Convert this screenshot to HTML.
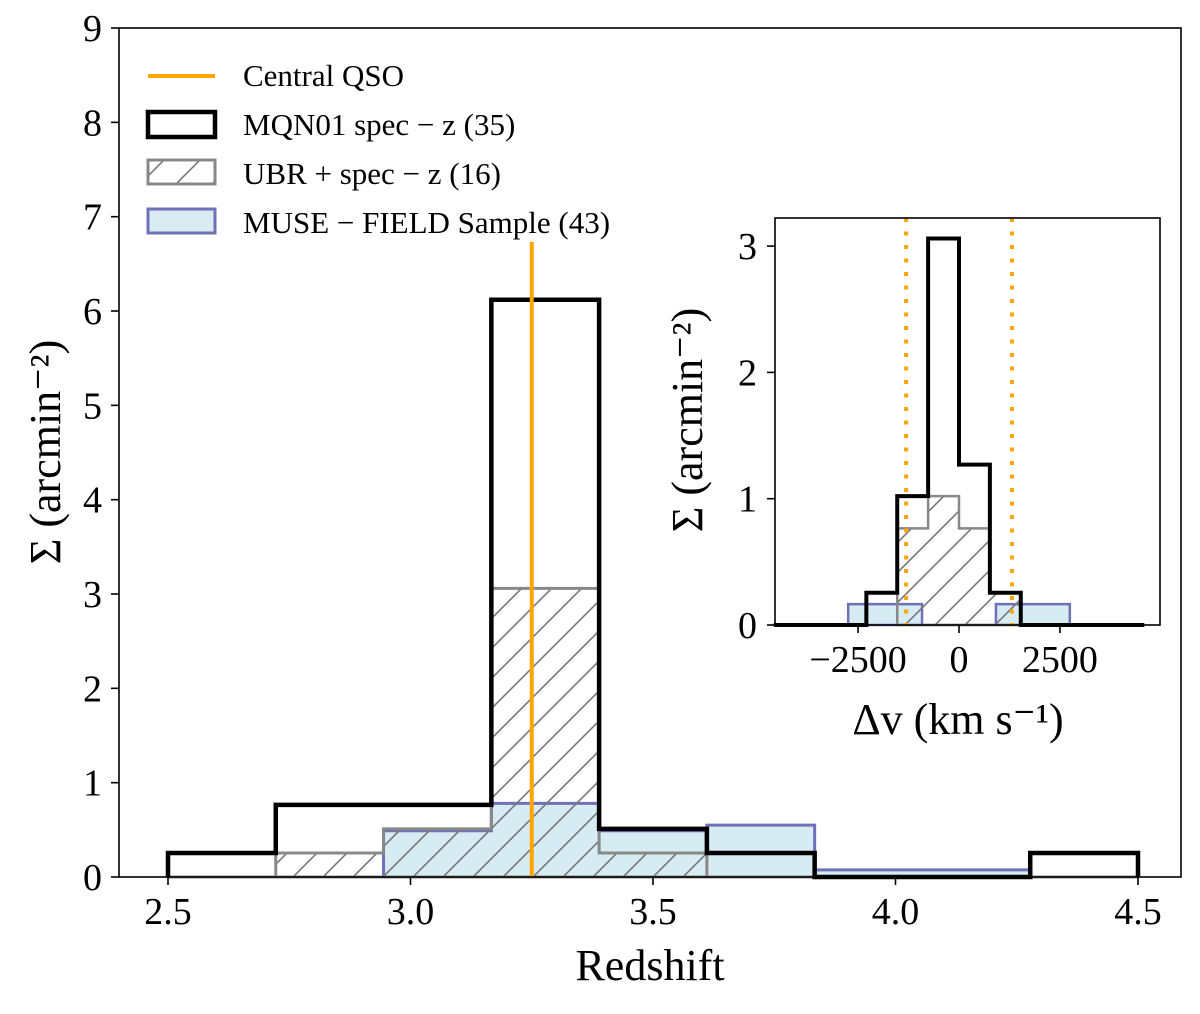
<!DOCTYPE html>
<html><head><meta charset="utf-8"><style>
body{margin:0;background:#fff}
svg text{font-family:"Liberation Serif",serif;fill:#000}
</style></head><body>
<svg id="c" width="1200" height="1009" xmlns="http://www.w3.org/2000/svg">
<defs>
<pattern id="hatch" patternUnits="userSpaceOnUse" width="30" height="30">
<path d="M-8,38 L38,-8 M-38,38 L8,-8 M22,38 L68,-8" stroke="#777" stroke-width="1.6"/>
</pattern>
<pattern id="hatch2" patternUnits="userSpaceOnUse" width="36" height="36">
<path d="M-8,44 L44,-8 M-44,44 L8,-8 M28,44 L80,-8" stroke="#777" stroke-width="1.6"/>
</pattern>
</defs>
</svg>
<script>
// main chart data
const zEdges=[2.5,2.7222,2.9444,3.1667,3.3889,3.6111,3.8333,4.0556,4.2778,4.5];
const mqn01=[0.255,0.765,0.765,6.12,0.51,0.255,0,0,0.255];
const ubr=[0,0.255,0.51,3.06,0.255,0,0,0,0];
const muse=[0,0,0.49,0.78,0.49,0.55,0.075,0.075,0];
const qsoZ=3.25;
const xTicks=[2.5,3.0,3.5,4.0,4.5];
const xTickLabels=["2.5","3.0","3.5","4.0","4.5"];
const yTicks=[0,1,2,3,4,5,6,7,8,9];
// inset data
const dvEdges=[-4590,-3825,-3060,-2295,-1530,-765,0,765,1530,2295,3060,3825,4590];
const mqnDv=[0,0,0,0.255,1.02,3.06,1.27,0.255,0,0,0,0];
const ubrDv=[0,0,0,0,0.765,1.02,0.765,0.255,0,0,0,0];
const museDvEdges=[-2745,-915,915,2745];
const museDv=[0.165,0,0.165];
const dvLines=[-1310,1310];
const dvTicks=[-2500,0,2500];
const dvTickLabels=["\u22122500","0","2500"];
const yTicksIn=[0,1,2,3];

const svg=document.getElementById('c');
const NS='http://www.w3.org/2000/svg';
function mk(tag,attrs,parent){const e=document.createElementNS(NS,tag);for(const k in attrs)e.setAttribute(k,attrs[k]);(parent||svg).appendChild(e);return e;}
function txt(s,x,y,size,anchor,parent){const t=mk('text',{x:x,y:y,'font-size':size,'text-anchor':anchor||'middle'},parent);t.textContent=s;return t;}

const X=z=>168+(z-2.5)*485;
const Y=v=>877-v*94.33;
function stepPath(edges,vals,X,Y,closed){
  let d='M'+X(edges[0])+','+Y(0);
  for(let i=0;i<vals.length;i++){d+=' L'+X(edges[i])+','+Y(vals[i])+' L'+X(edges[i+1])+','+Y(vals[i]);}
  d+=' L'+X(edges[edges.length-1])+','+Y(0);
  if(closed)d+=' Z';
  return d;
}
const g=mk('g',{});


let p=mk('path',{d:stepPath(zEdges,muse,X,Y,true),fill:'#add8e6','fill-opacity':0.5,stroke:'#7070b8','stroke-width':3},g);


p=mk('path',{d:stepPath(zEdges,ubr,X,Y,true),fill:'url(#hatch)',stroke:'#888','stroke-width':3},g);


p=mk('path',{d:stepPath(zEdges,mqn01,X,Y,false),fill:'none',stroke:'#000','stroke-width':4.5},g);


p=mk('line',{x1:X(qsoZ),x2:X(qsoZ),y1:242,y2:877,stroke:'#ffa500','stroke-width':4},g);


p=mk('rect',{x:119,y:28,width:1062,height:849,fill:'none',stroke:'#000','stroke-width':1.6},g);


xTicks.forEach((v,i)=>{
  mk('line',{x1:X(v),x2:X(v),y1:877,y2:885,stroke:'#000','stroke-width':1.6},g);
  const t=txt(xTickLabels[i],X(v),924,38,'middle',g);
  
  
});
yTicks.forEach(v=>{
  mk('line',{x1:111,x2:119,y1:Y(v),y2:Y(v),stroke:'#000','stroke-width':1.6},g);
  const t=txt(String(v),102,Y(v)+13,38,'end',g);
  
  
});
let t=txt('Redshift',650,980,44,'middle',g);


t=txt('\u03A3 (arcmin\u207B\u00B2)',0,0,44,'middle',g);
t.setAttribute('transform','translate(60,452) rotate(-90)');



// legend
const lg=mk('g',{});


mk('line',{x1:148,x2:215,y1:76,y2:76,stroke:'#ffa500','stroke-width':4},lg);
mk('rect',{x:148,y:112,width:67,height:25,fill:'none',stroke:'#000','stroke-width':4.5},lg);
mk('rect',{x:148,y:160,width:67,height:24,fill:'url(#hatch2)',stroke:'#888','stroke-width':3},lg);
mk('rect',{x:148,y:209,width:67,height:24,fill:'#d8ecf2',stroke:'#7070b8','stroke-width':3},lg);
[['Central QSO',86],['MQN01 spec \u2212 z (35)',135],['UBR + spec \u2212 z (16)',184],['MUSE \u2212 FIELD Sample (43)',233]].forEach(a=>{
  const e=txt(a[0],243,a[1],31,'start',lg);
  
  
});

// inset
const XI=v=>959+v*0.04037;
const YI=v=>625-v*126.3;
const ig=mk('g',{});


mk('rect',{x:775,y:218,width:385,height:407,fill:'#fff'},ig);
p=mk('path',{d:stepPath(museDvEdges,museDv,XI,YI,true),fill:'#add8e6','fill-opacity':0.5,stroke:'#7070b8','stroke-width':2.5},ig);


p=mk('path',{d:stepPath(dvEdges.slice(4,9),ubrDv.slice(4,8),XI,YI,true),fill:'url(#hatch)',stroke:'#888','stroke-width':2.5},ig);


p=mk('path',{d:stepPath(dvEdges,mqnDv,XI,YI,false),fill:'none',stroke:'#000','stroke-width':4},ig);


dvLines.forEach(v=>{
  const l=mk('line',{x1:XI(v),x2:XI(v),y1:218,y2:625,stroke:'#ffa500','stroke-width':4,'stroke-dasharray':'4,9.5'},ig);
  
  
});
mk('rect',{x:775,y:218,width:385,height:407,fill:'none',stroke:'#000','stroke-width':1.6},ig);
dvTicks.forEach((v,i)=>{
  mk('line',{x1:XI(v),x2:XI(v),y1:625,y2:633,stroke:'#000','stroke-width':1.6},ig);
  const e=txt(dvTickLabels[i],XI(v),672,38,'middle',ig);
  
  
});
yTicksIn.forEach(v=>{
  mk('line',{x1:767,x2:775,y1:YI(v),y2:YI(v),stroke:'#000','stroke-width':1.6},ig);
  const e=txt(String(v),757,YI(v)+13,38,'end',ig);
  
  
});
t=txt('\u0394v (km s\u207B\u00B9)',958,734,44,'middle',ig);


t=txt('\u03A3 (arcmin\u207B\u00B2)',0,0,44,'middle',ig);
t.setAttribute('transform','translate(702,420) rotate(-90)');


</script>
</body></html>
